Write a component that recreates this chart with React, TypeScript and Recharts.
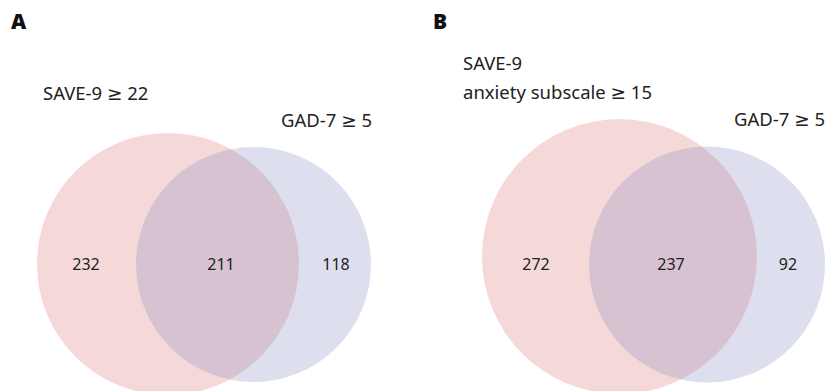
import { ScatterChart, Scatter, XAxis, YAxis } from "recharts";

const W = 829;
const H = 391;

// circles: panel, set, centre x/y, radius (px units on a 1:1 axis)
const circleSets = ["SAVE-9", "GAD-7", "SAVE-9 anxiety", "GAD-7 (B)"];
const circleX = [168, 253.5, 619.5, 707];
const circleY = [264, 264.5, 256.5, 264.5];
const circleR = [131, 117.5, 137.5, 118];
const circleFill = ["#f5d9d9", "#7c80bc", "#f5d9d9", "#7c80bc"];
const circleOpacity = [1, 0.25, 1, 0.25];

// region counts
const counts = [232, 211, 118, 272, 237, 92];
const countX = [86, 221, 336, 536, 671, 788];
const countY = [264, 264, 264, 264, 264, 264];

// set labels
const labels = ["SAVE-9 ≥ 22", "GAD-7 ≥ 5", "SAVE-9", "anxiety subscale ≥ 15", "GAD-7 ≥ 5"];
const labelX = [43, 281, 463, 463, 734];
const labelY = [92, 119, 62, 91, 118];

const panels = ["A", "B"];
const panelX = [11, 433];
const panelY = [21, 21];

const circleData = circleSets.map((name, i) => ({
  name, x: circleX[i], y: circleY[i], r: circleR[i], fill: circleFill[i], op: circleOpacity[i],
}));
const countData = counts.map((v, i) => ({ x: countX[i], y: countY[i], text: String(v) }));
const labelData = labels.map((t, i) => ({ x: labelX[i], y: labelY[i], text: t }));
const panelData = panels.map((t, i) => ({ x: panelX[i], y: panelY[i], text: t }));

const font = "'Noto Sans', 'DejaVu Sans', sans-serif";

const CircleShape = (p: any) => {
  const { cx, cy, payload } = p;
  return <circle cx={cx} cy={cy} r={payload.r} fill={payload.fill} fillOpacity={payload.op} />;
};

const CountShape = (p: any) => (
  <text x={p.cx} y={p.cy} textAnchor="middle" dominantBaseline="central"
    fontSize={16} fontFamily={font} fill="#222">{p.payload.text}</text>
);

const LabelShape = (p: any) => (
  <text x={p.cx} y={p.cy} textAnchor="start" dominantBaseline="central"
    fontSize={18.5} fontFamily={font} fill="#222">{p.payload.text}</text>
);

const PanelShape = (p: any) => (
  <text x={p.cx} y={p.cy} textAnchor="start" dominantBaseline="central"
    fontSize={21} fontWeight={900} fontFamily={font} fill="#111">{p.payload.text}</text>
);

export default function App() {
  return (
    <div style={{ position: "absolute", left: 0, top: 0, background: "#fff" }}>
      <ScatterChart width={W} height={H} margin={{ top: 0, right: 0, bottom: 0, left: 0 }}>
        <XAxis type="number" dataKey="x" domain={[0, W]} hide allowDataOverflow />
        <YAxis type="number" dataKey="y" domain={[0, H]} reversed hide allowDataOverflow />
        <Scatter data={circleData} shape={CircleShape} isAnimationActive={false} />
        <Scatter data={countData} shape={CountShape} isAnimationActive={false} />
        <Scatter data={labelData} shape={LabelShape} isAnimationActive={false} />
        <Scatter data={panelData} shape={PanelShape} isAnimationActive={false} />
      </ScatterChart>
    </div>
  );
}
